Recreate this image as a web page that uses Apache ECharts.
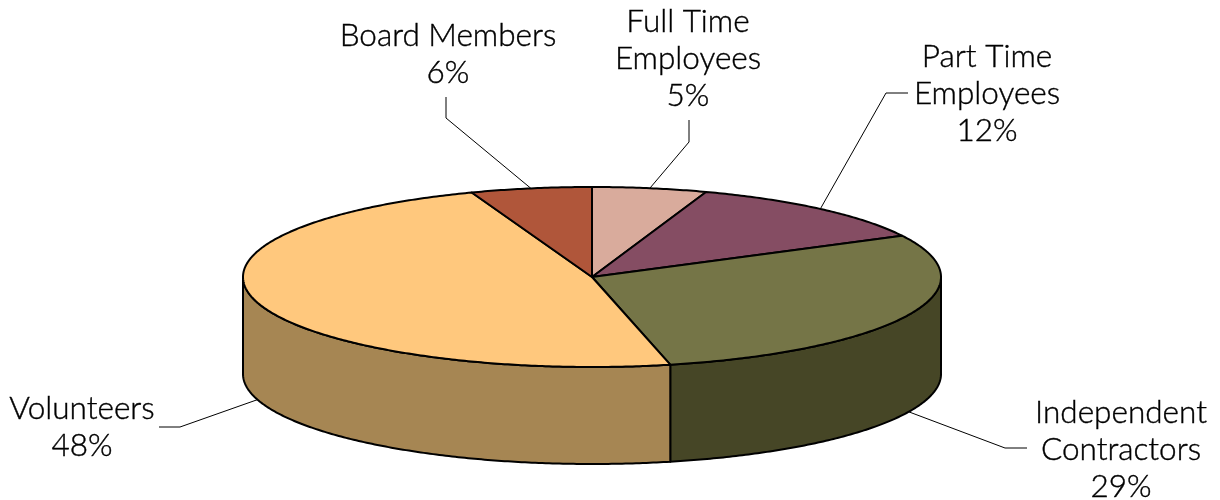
<!DOCTYPE html>
<html>
<head>
<meta charset="utf-8">
<style>
  html, body { margin: 0; background: #fff; }
  #chart { width: 1220px; height: 500px; }
</style>
<script src="https://cdn.jsdelivr.net/npm/echarts@6/dist/echarts.min.js"></script>
</head>
<body>
<div id="chart"></div>
<script>
// 数据
const categories = ['Full Time\nEmployees', 'Part Time\nEmployees', 'Independent\nContractors', 'Volunteers', 'Board Members']
const shares = [5.3, 12.1, 29.0, 48.0, 5.6]

// 颜色配置
const topColors = ['#D9AB9C', '#854D63', '#757547', '#FFC87D', '#B0563A']
const sideColors = ['#A67F72', '#613748', '#464626', '#A68653', '#823F2A']

// pie geometry, px
const cx = 592, cy = 277, rx = 349, ry = 90, depth = 97
// where the labels and the bends of their leader lines go
const labelPos = [[688, 3], [987, 38], [1121, 394], [82, 390], [448, 17]]
const leaderBends = [
  [[689, 142], [689, 120]],
  [[886, 93], [908, 93]],
  [[1005, 448], [1027, 448]],
  [[180, 427], [159, 427]],
  [[446, 118], [446, 97]]
]

const total = shares.reduce((a, b) => a + b, 0)
const starts = []
shares.reduce((acc, v, i) => { starts[i] = acc; return acc + v }, 0)
const toAngle = v => v / total * Math.PI * 2
const rimPoint = (a, dy = 0) => [cx + rx * Math.sin(a), cy - ry * Math.cos(a) + dy]

const arcPoints = (a0, a1, dy = 0) => {
  const n = Math.max(2, Math.ceil((a1 - a0) / 0.01))
  const pts = []
  for (let k = 0; k <= n; k++) pts.push(rimPoint(a0 + (a1 - a0) * k / n, dy))
  return pts
}

const pieData = shares.map((v, i) => ({ value: v, name: categories[i] }))
const edge = { stroke: '#000', lineWidth: 2, lineJoin: 'round' }

// only the front half of the rim shows
const renderSide = (params, api) => {
  const i = params.dataIndex
  const a0 = Math.max(toAngle(starts[i]), Math.PI / 2)
  const a1 = Math.min(toAngle(starts[i] + api.value(0)), Math.PI * 1.5)
  if (a1 <= a0) return null
  const points = arcPoints(a0, a1).concat(arcPoints(a0, a1, depth).reverse())
  return { type: 'polygon', shape: { points }, style: { fill: sideColors[i], ...edge } }
}

const renderTop = (params, api) => {
  const i = params.dataIndex
  const a0 = toAngle(starts[i])
  const a1 = toAngle(starts[i] + api.value(0))
  const points = [[cx, cy]].concat(arcPoints(a0, a1))
  return { type: 'polygon', shape: { points }, style: { fill: topColors[i], ...edge } }
}

const renderLabel = (params, api) => {
  const i = params.dataIndex
  const v = api.value(0)
  const mid = toAngle(starts[i] + v / 2)
  // leaders of the front slices start at the bottom of the rim
  const front = Math.cos(mid) < 0
  const start = rimPoint(mid, front ? depth : 0)
  const pct = Math.round(v / total * 100) + '%'
  return {
    type: 'group',
    children: [
      {
        type: 'polyline',
        shape: { points: [start].concat(leaderBends[i]) },
        style: { stroke: '#000', lineWidth: 1, fill: null }
      },
      {
        type: 'text',
        x: labelPos[i][0],
        y: labelPos[i][1],
        style: {
          text: categories[i] + '\n' + pct,
          fill: '#000',
          font: '300 31.5px Lato',
          lineHeight: 37,
          align: 'center',
          verticalAlign: 'top',
          // Lato Light alone is a touch thinner than the reference
          stroke: '#000',
          lineWidth: 0.4
        }
      }
    ]
  }
}

const chart = echarts.init(document.getElementById('chart'))
chart.setOption({
  animation: false,
  backgroundColor: '#fff',
  series: [
    { type: 'custom', coordinateSystem: 'none', silent: true, data: pieData, renderItem: renderSide },
    { type: 'custom', coordinateSystem: 'none', silent: true, data: pieData, renderItem: renderTop },
    { type: 'custom', coordinateSystem: 'none', silent: true, data: pieData, renderItem: renderLabel }
  ]
})
</script>
</body>
</html>
